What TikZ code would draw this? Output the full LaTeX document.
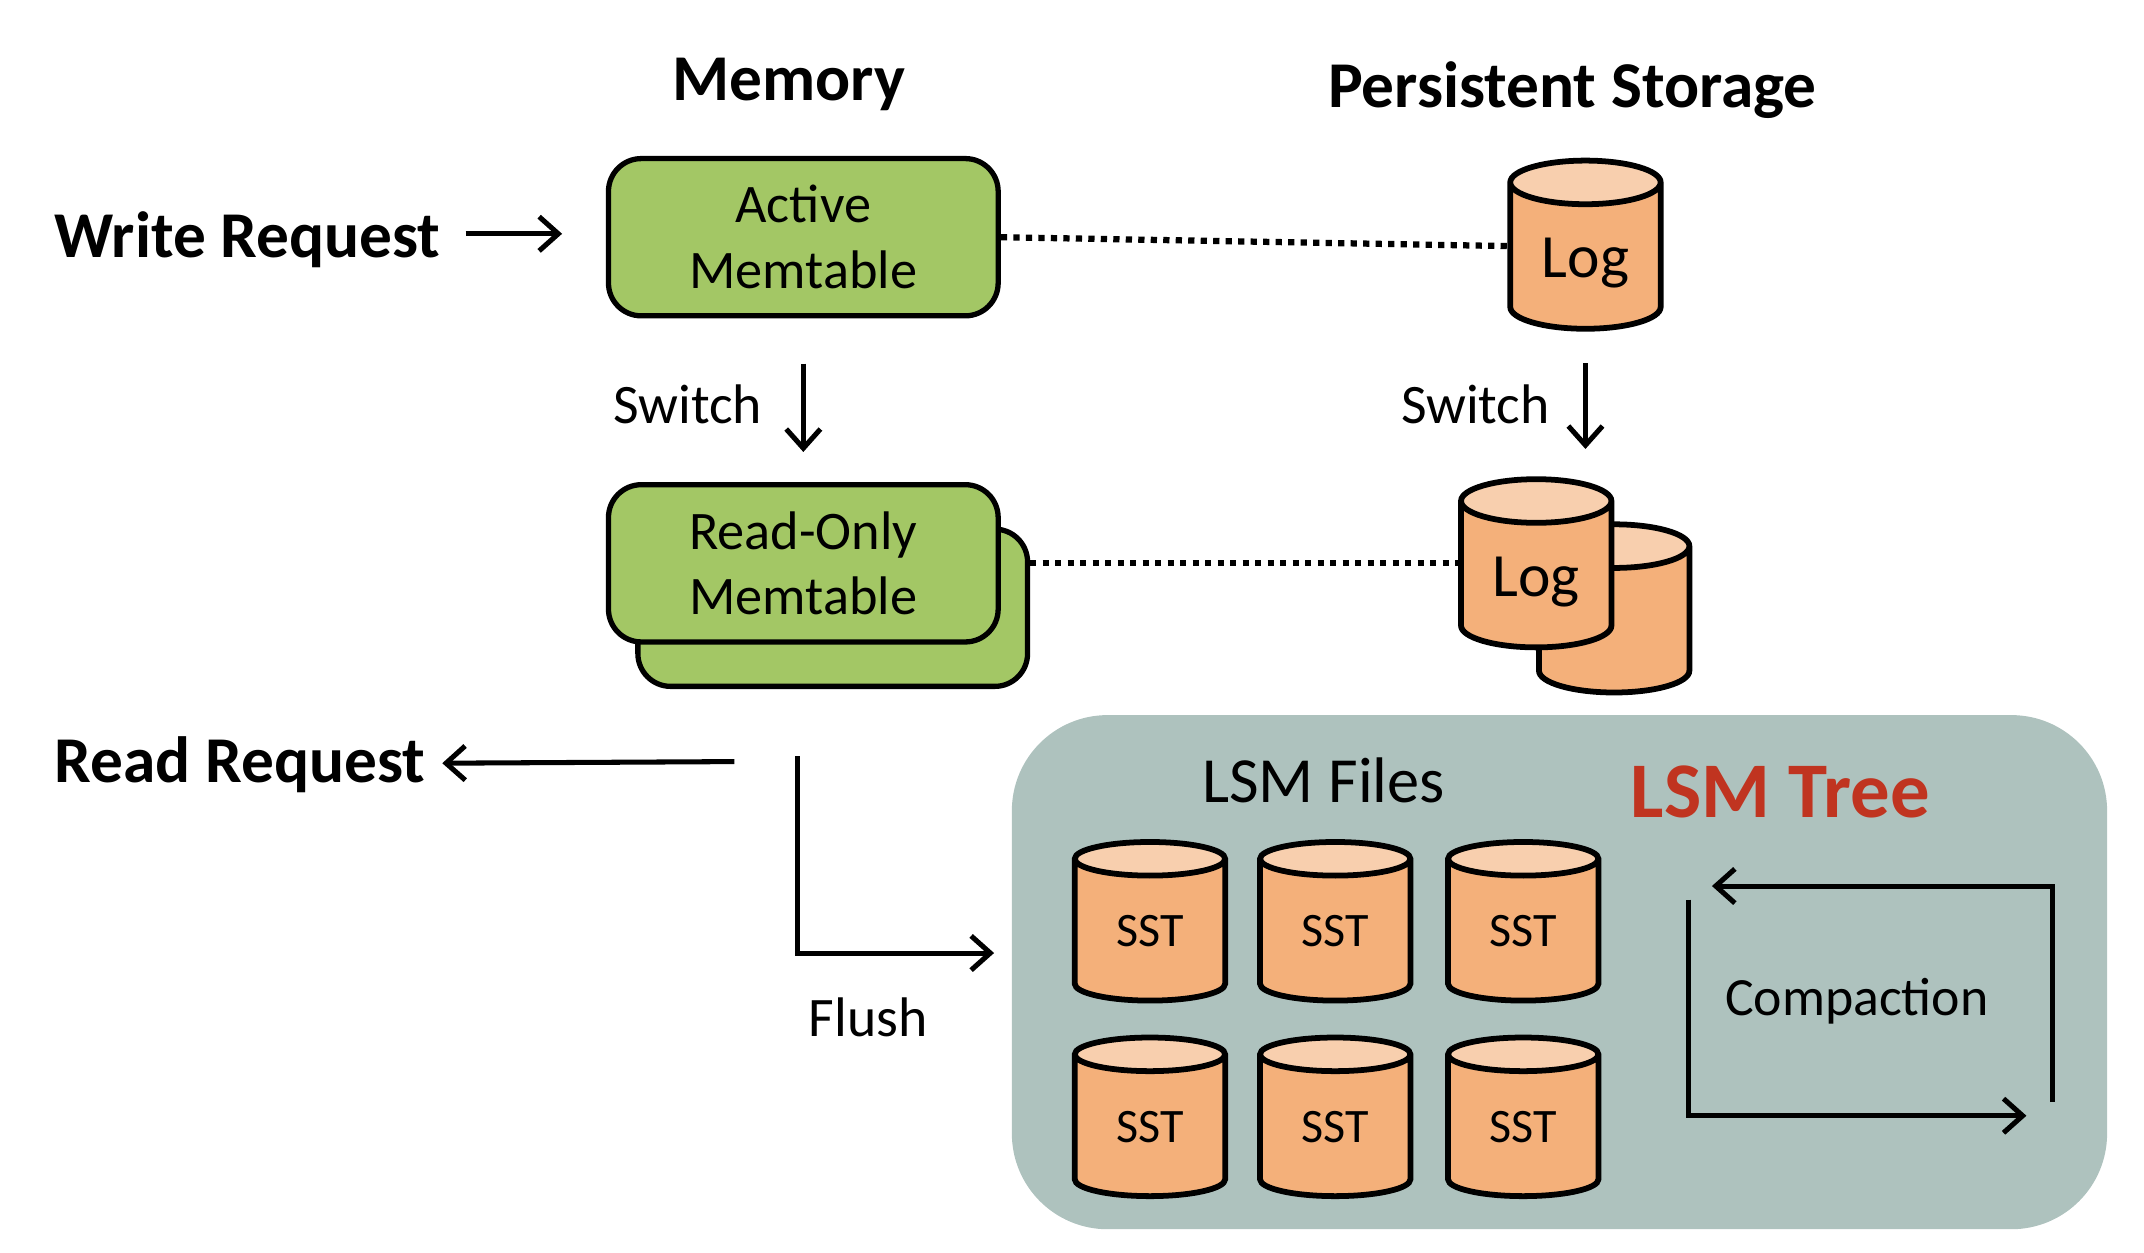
\documentclass[tikz,border=0pt]{standalone}
\usepackage{fontspec}
\setmainfont{Carlito}
\usetikzlibrary{shapes,arrows,arrows.meta,positioning,calc}
\definecolor{memgreen}{RGB}{163,199,101}
\definecolor{diskorange}{RGB}{244,176,122}
\definecolor{disktop}{RGB}{248,207,174}
\definecolor{treegrey}{RGB}{174,194,190}
\definecolor{treered}{RGB}{192,52,32}
\tikzset{
  memtable/.style={draw, fill=memgreen, rounded corners=0.24cm, line width=1.1pt, minimum width=2.85cm, minimum height=1.15cm, inner sep=0pt, align=center, font=\fontsize{11.3}{13.7}\selectfont},
  disk/.style={draw, cylinder, shape border rotate=90, shape aspect=0.5, cylinder uses custom fill, cylinder body fill=diskorange, cylinder end fill=disktop, line width=1.2pt, minimum width=1.1cm, inner sep=0pt},
  logdisk/.style={disk, minimum height=1.23cm, text height=0.38cm, font=\fontsize{12.8}{14}\selectfont},
  sstdisk/.style={disk, minimum height=1.16cm, font=\fontsize{10}{12}\selectfont},
  heading/.style={font=\fontsize{13.6}{16}\selectfont\bfseries},
  label/.style={font=\fontsize{11.6}{14}\selectfont},
  arrowline/.style={->, >={Straight Barb[length=1.4mm,width=2.5mm]}, line width=1.05pt},
  dotline/.style={line width=1.3pt, dash pattern=on 1.3pt off 1.3pt}
}
\begin{document}
\begin{tikzpicture}
    \useasboundingbox (0,0) rectangle (15.68,9.16);
    % lsm tree panel
    \node[fill=treegrey, rounded corners=0.7cm, minimum width=8.01cm, minimum height=3.76cm] (tree) at (11.405,2.05) {};
    % headings
    \node[heading] (memory) at (5.77,8.54) {Memory};
    \node[heading] (storage) at (11.5,8.5) {Persistent Storage};
    \node[heading] (write) at (1.81,7.41) {Write Request};
    \node[heading] (read) at (1.755,3.57) {Read Request};
    % memtables
    \node[memtable] (active) at (5.875,7.425) {Active\\Memtable};
    \node[memtable] (oldback) at (6.09,4.715) {};
    \node[memtable] (readonly) at (5.875,5.04) {Read-Only\\Memtable};
    % logs
    \node[logdisk] (log) at (11.595,7.28) {Log};
    \node[logdisk] (logback) at (11.805,4.62) {\phantom{Log}};
    \node[logdisk] (logfront) at (11.235,4.95) {Log};
    % sst files
    \node[sstdisk] (sstA) at (8.41,2.35) {SST};
    \node[sstdisk] (sstB) at (9.765,2.35) {SST};
    \node[sstdisk] (sstC) at (11.14,2.35) {SST};
    \node[sstdisk] (sstD) at (8.41,0.92) {SST};
    \node[sstdisk] (sstE) at (9.765,0.92) {SST};
    \node[sstdisk] (sstF) at (11.14,0.92) {SST};
    % labels
    \node[font=\fontsize{13.4}{16}\selectfont] (files) at (9.68,3.45) {LSM Files};
    \node[font=\fontsize{16.4}{18}\selectfont\bfseries, text=treered] (lsm) at (13.02,3.37) {LSM Tree};
    \node[font=\fontsize{11.2}{14}\selectfont] (compaction) at (13.58,1.84) {Compaction};
    \node[label] (switchA) at (5.03,6.2) {Switch};
    \node[label] (switchB) at (10.79,6.2) {Switch};
    \node[label] (flush) at (6.35,1.72) {Flush};
    % free ends
    \coordinate (readStart) at (5.37,3.59);
    \coordinate (flushStart) at (5.83,3.63);
    \coordinate (flushEnd) at (7.27,2.19);
    \coordinate (compA) at (12.35,2.58);
    \coordinate (compB) at (14.82,1.0);
    \coordinate (compC) at (15.01,1.1);
    \coordinate (compD) at (12.52,2.68);
    % connectors
    \draw[arrowline, transform canvas={yshift=0.04cm}, shorten <=0.06cm, shorten >=0.32cm] (write) -- (active.west |- write);
    \draw[arrowline, shorten <=0.33cm, shorten >=0.22cm] (active) -- (readonly);
    \draw[arrowline, shorten <=0.23cm, shorten >=0.2cm] (log.270) -- (log.270 |- logfront.90);
    \draw[arrowline] (readStart) -- (read);
    \draw[arrowline] (flushStart) |- (flushEnd);
    \draw[arrowline] (compA) |- (compB);
    \draw[arrowline] (compC) |- (compD);
    \draw[dotline] (active.east) -- ([yshift=0.08cm]log.180);
    \draw[dotline] (oldback.east |- readonly) -- (logfront.180 |- readonly);
\end{tikzpicture}
\end{document}
